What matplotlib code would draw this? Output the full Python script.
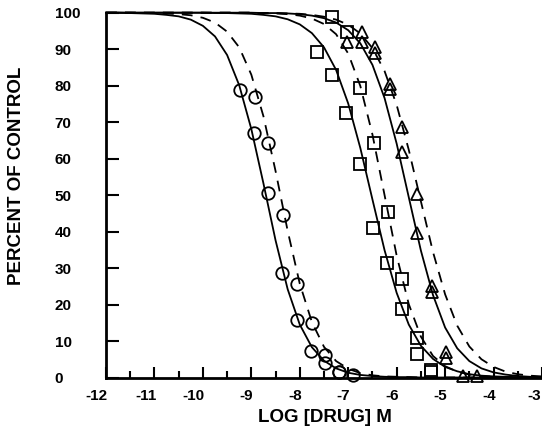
import matplotlib
matplotlib.use("Agg")
import matplotlib.pyplot as plt
import matplotlib.transforms as mtransforms

# ---------------- data ----------------
log_dose = [-12.0, -11.75, -11.5, -11.25, -11.0, -10.75, -10.5, -10.25, -10.0,
            -9.75, -9.5, -9.25, -9.0, -8.75, -8.5, -8.25, -8.0, -7.75, -7.5,
            -7.25, -7.0, -6.75, -6.5, -6.25, -6.0, -5.75, -5.5, -5.25, -5.0,
            -4.75, -4.5, -4.25, -4.0, -3.75, -3.5, -3.25, -3.0]

# fitted curves
circle_fit_solid = [100.0, 100.0, 99.9, 99.8, 99.7, 99.4, 99.0, 98.1, 96.4,
                    93.5, 88.4, 80.1, 68.1, 53.2, 37.6, 24.2, 14.5, 8.3, 4.6,
                    2.5, 1.3, 0.7, 0.4, 0.2, 0.1, 0.1, 0.0, 0.0, 0.0,
                    0.0, 0.0, 0.0, 0.0, 0.0, 0.0, 0.0, 0.0]
circle_fit_dashed = [100.0, 100.0, 100.0, 99.9, 99.9, 99.8, 99.6, 99.3, 98.6,
                     97.3, 94.8, 90.5, 83.0, 71.6, 56.6, 40.2, 25.7, 15.2, 8.4,
                     4.5, 2.4, 1.2, 0.6, 0.3, 0.2, 0.1, 0.0, 0.0, 0.0,
                     0.0, 0.0, 0.0, 0.0, 0.0, 0.0, 0.0, 0.0]
square_fit_solid = [100.0, 100.0, 100.0, 100.0, 100.0, 100.0, 100.0, 100.0, 100.0,
                    99.9, 99.9, 99.8, 99.7, 99.4, 99.0, 98.2, 96.8, 94.4, 90.5,
                    84.3, 75.1, 62.9, 48.8, 34.9, 23.2, 14.5, 8.7, 5.1, 2.9,
                    1.7, 0.9, 0.5, 0.3, 0.2, 0.1, 0.1, 0.0]
square_fit_dashed = [100.0, 100.0, 100.0, 100.0, 100.0, 100.0, 100.0, 100.0, 100.0,
                     100.0, 100.0, 100.0, 100.0, 99.9, 99.8, 99.6, 99.2, 98.4, 96.9,
                     94.1, 88.8, 79.9, 66.6, 50.0, 33.4, 20.1, 11.2, 5.9, 3.1,
                     1.6, 0.8, 0.4, 0.2, 0.1, 0.0, 0.0, 0.0]
triangle_fit_solid = [100.0, 100.0, 100.0, 100.0, 100.0, 100.0, 100.0, 100.0, 100.0,
                      100.0, 100.0, 100.0, 100.0, 99.9, 99.9, 99.8, 99.6, 99.2, 98.5,
                      97.3, 95.2, 91.6, 85.7, 76.6, 64.1, 49.4, 34.8, 22.6, 13.7,
                      8.0, 4.5, 2.5, 1.4, 0.8, 0.4, 0.2, 0.1]
triangle_fit_dashed = [100.0, 100.0, 100.0, 100.0, 100.0, 100.0, 100.0, 100.0, 100.0,
                       100.0, 100.0, 100.0, 100.0, 99.9, 99.9, 99.8, 99.7, 99.4, 98.9,
                       98.1, 96.7, 94.3, 90.3, 84.0, 74.7, 62.4, 48.3, 34.4, 22.8,
                       14.2, 8.5, 5.0, 2.9, 1.6, 0.9, 0.5, 0.3]

# measured points
circle_a_x = [-9.24, -8.95, -8.66, -8.37, -8.06, -7.77, -7.48, -7.20, -6.90]
circle_a_y = [78.8, 67.0, 50.5, 28.6, 15.8, 7.3, 4.0, 1.5, 0.6]
circle_b_x = [-8.93, -8.66, -8.35, -8.06, -7.75, -7.48, -7.20]
circle_b_y = [76.8, 64.2, 44.5, 25.6, 15.0, 6.2, 1.5]

square_a_x = [-7.65, -7.34, -7.05, -6.76, -6.49, -6.19, -5.90, -5.59, -5.30]
square_a_y = [89.3, 82.9, 72.4, 58.5, 41.0, 31.4, 18.7, 6.4, 1.5]
square_b_x = [-7.34, -7.03, -6.75, -6.47, -6.17, -5.90, -5.57, -5.30]
square_b_y = [98.8, 94.7, 79.3, 64.2, 45.3, 27.0, 10.8, 2.0]

triangle_a_x = [-6.72, -6.45, -6.14, -5.88, -5.57, -5.28, -4.99, -4.64]
triangle_a_y = [92.0, 89.0, 79.0, 61.8, 39.6, 23.4, 5.3, 0.5]
triangle_b_x = [-7.03, -6.72, -6.45, -6.14, -5.88, -5.57, -5.28, -4.99, -4.35]
triangle_b_y = [92.0, 94.7, 90.5, 80.5, 68.7, 50.4, 25.0, 7.0, 0.3]

x_ticks = [-12, -11, -10, -9, -8, -7, -6, -5, -4, -3]
x_tick_labels = ["-12", "-11", "-10", "-9", "-8", "-7", "-6", "-5", "-4", "-3"]
x_minor = [-11.5, -10.5, -9.5, -8.5, -7.5, -6.5, -5.5, -4.5, -3.5]
y_ticks = [0, 10, 20, 30, 40, 50, 60, 70, 80, 90, 100]
y_tick_labels = ["0", "10", "20", "30", "40", "50", "60", "70", "80", "90", "100"]

# ---------------- plot ----------------
plt.rcParams['font.family'] = ['Liberation Sans', 'DejaVu Sans']
W, H = 542, 444
fig = plt.figure(figsize=(W / 100, H / 100), dpi=100)
ax = fig.add_axes([106 / W, (H - 377.5) / H, (W - 106) / W, (377.5 - 12.7) / H])

lw = 1.3
dash = (0, (6, 4.5))
for ys, style in [(circle_fit_solid, '-'), (circle_fit_dashed, dash),
                  (square_fit_solid, '-'), (square_fit_dashed, dash),
                  (triangle_fit_solid, '-'), (triangle_fit_dashed, dash)]:
    ax.plot(log_dose, ys, color='black', lw=lw, linestyle=style, clip_on=False)

mk = dict(color='black', linestyle='none', markerfacecolor='none',
          markeredgewidth=1.3, clip_on=False)
ax.plot(circle_a_x, circle_a_y, marker='o', markersize=9, **mk)
ax.plot(circle_b_x, circle_b_y, marker='o', markersize=9, **mk)
ax.plot(square_a_x, square_a_y, marker='s', markersize=8, **mk)
ax.plot(square_b_x, square_b_y, marker='s', markersize=8, **mk)
ax.plot(triangle_a_x, triangle_a_y, marker='^', markersize=9, **mk)
ax.plot(triangle_b_x, triangle_b_y, marker='^', markersize=9, **mk)

ax.set_xlim(-12, -3)
ax.set_ylim(0, 100)
for s in ['top', 'right']:
    ax.spines[s].set_visible(False)
for s in ['left', 'bottom']:
    ax.spines[s].set_linewidth(2)

tick_fs = 11
ax.set_xticks(x_ticks)
ax.set_xticklabels(x_tick_labels, fontsize=tick_fs, fontweight='bold')
ax.set_xticks(x_minor, minor=True)
ax.set_yticks(y_ticks)
ax.set_yticklabels(y_tick_labels, fontsize=tick_fs, fontweight='bold')
ax.tick_params(axis='x', which='major', direction='in', length=8, width=1.5, pad=8)
ax.tick_params(axis='x', which='minor', direction='in', length=5, width=1.5)
ax.tick_params(axis='y', which='major', direction='in', length=9, width=1.5, pad=37)

xlabels = ax.get_xticklabels()
for i, lab in enumerate(xlabels):
    dx = 2 if i < len(xlabels) - 1 else -1
    off = mtransforms.ScaledTranslation(dx / 100, 0, fig.dpi_scale_trans)
    lab.set_ha('right')
    lab.set_transform(lab.get_transform() + off)
for lab in ax.get_yticklabels():
    lab.set_ha('left')

fig.text(17 / W, 1 - 176 / H, "PERCENT OF CONTROL", rotation=90, ha='center',
         va='center', fontsize=13.5, fontweight='bold')
fig.text(325 / W, 1 - 417 / H, "LOG [DRUG] M", ha='center', va='center',
         fontsize=13.5, fontweight='bold')

fig.savefig("out.png", dpi=100)
